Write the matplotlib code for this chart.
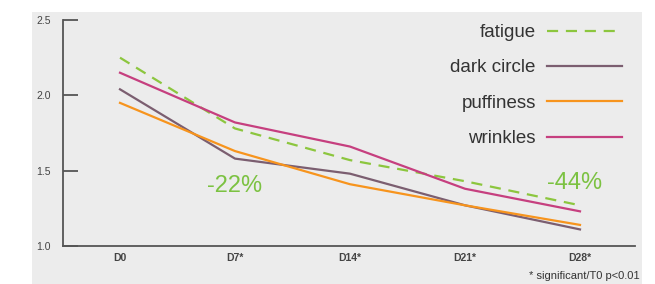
import matplotlib
matplotlib.use("Agg")
import matplotlib.pyplot as plt
from matplotlib import font_manager
from matplotlib.patches import Rectangle

days = ["D0", "D7*", "D14*", "D21*", "D28*"]
fatigue = [2.25, 1.78, 1.57, 1.43, 1.27]
dark_circle = [2.04, 1.58, 1.48, 1.27, 1.11]
puffiness = [1.95, 1.63, 1.41, 1.27, 1.14]
wrinkles = [2.15, 1.82, 1.66, 1.38, 1.23]
y_ticks = [1.0, 1.5, 2.0, 2.5]
annotations = [("-22%", 1, 1.40), ("-44%", 3.95, 1.42)]

names = {f.name for f in font_manager.fontManager.ttflist}
narrow = "Liberation Sans Narrow" if "Liberation Sans Narrow" in names else "Liberation Sans"
plt.rcParams["font.family"] = [narrow, "DejaVu Sans"]

W, H = 655, 284
fig = plt.figure(figsize=(W / 100, H / 100), dpi=100)
fig.patch.set_facecolor("white")
fig.patches.append(Rectangle((32 / W, 0), (642 - 32) / W, 1 - 12 / H,
                             transform=fig.transFigure, facecolor="#ececec",
                             edgecolor="none", zorder=-10))

ax = fig.add_axes([63 / W, 1 - 246 / H, (635 - 63) / W, (246 - 20) / H])
ax.set_facecolor("none")
ax.set_zorder(1)

x = list(range(len(days)))
ax.plot(x, fatigue, color="#8cc63e", lw=1.6, ls=(0, (5, 3.5)), label="fatigue", zorder=3)
ax.plot(x, dark_circle, color="#7b5e70", lw=1.6, label="dark circle", zorder=3)
ax.plot(x, puffiness, color="#f7941d", lw=1.6, label="puffiness", zorder=3)
ax.plot(x, wrinkles, color="#c63f7f", lw=1.6, label="wrinkles", zorder=3)

ax.set_xlim(-57 / 115, 4 + 55 / 115)
ax.set_ylim(1.0, 2.5)
ax.set_xticks(x)
ax.set_xticklabels(days)
ax.set_yticks(y_ticks)
ax.set_yticklabels([f"{v:.1f}" for v in y_ticks])

for s in ["top", "right"]:
    ax.spines[s].set_visible(False)
for s in ["left", "bottom"]:
    ax.spines[s].set_color("#555555")
    ax.spines[s].set_linewidth(1.3)

ax.tick_params(axis="y", direction="in", length=11, width=1.3, color="#555555",
               labelsize=7.5, labelcolor="#444444", pad=9)
ax.tick_params(axis="x", length=0, labelsize=7.5, labelcolor="#444444", pad=5)
for lab in ax.get_xticklabels():
    lab.set_fontweight("bold")

for txt, xx, yy in annotations:
    ax.text(xx, yy, txt, color="#7cc242", fontsize=17, ha="center", va="center", zorder=4)

leg = ax.legend(loc="upper right", bbox_to_anchor=(622 / W, 1 - 24 / H),
                bbox_transform=fig.transFigure, frameon=False, markerfirst=False,
                fontsize=13.5, handlelength=4.0, handletextpad=0.6, labelspacing=0.97,
                borderpad=0, borderaxespad=0)
for t in leg.get_texts():
    t.set_color("#333333")

fig.text(640 / W, 1 - 276 / H, "* significant/T0 p<0.01", ha="right", va="center",
         fontsize=8, color="#333333")

fig.savefig("out.png", dpi=100)
